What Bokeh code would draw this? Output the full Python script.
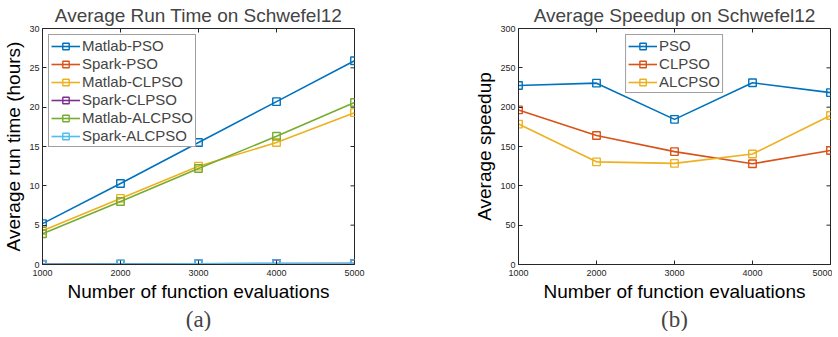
from bokeh.plotting import figure
from bokeh.models import FixedTicker, Title, Legend, LegendItem, Range1d
from bokeh.layouts import row
from bokeh.embed import file_html
from bokeh.resources import INLINE

evals = [1000, 2000, 3000, 4000, 5000]

# Panel (a): average run time (hours)
matlab_pso = [5.2, 10.3, 15.5, 20.7, 25.9]
spark_pso = [0.023, 0.045, 0.084, 0.090, 0.118]
matlab_clpso = [4.3, 8.4, 12.5, 15.5, 19.3]
spark_clpso = [0.022, 0.051, 0.087, 0.121, 0.133]
matlab_alcpso = [3.9, 8.0, 12.2, 16.3, 20.6]
spark_alcpso = [0.022, 0.062, 0.095, 0.116, 0.109]

# Panel (b): average speedup
speed_pso = [227.5, 230.5, 184.5, 231.0, 218.5]
speed_clpso = [196.5, 164.0, 143.5, 128.0, 145.0]
speed_alcpso = [178.5, 130.5, 128.5, 140.5, 189.5]

x_ticks = [1000, 2000, 3000, 4000, 5000]
y_ticks_a = [0, 5, 10, 15, 20, 25, 30]
y_ticks_b = [0, 50, 100, 150, 200, 250, 300]

C = ["#0072BD", "#D95319", "#EDB120", "#7E2F8E", "#77AC30", "#4DBEEE"]
FONT = "Liberation Sans"
TICKC = "#262626"
FW, FH = 312, 236   # frame size in pixels
TICK_PX = 4


def style_axis(ax, ticks, standoff):
    ax.ticker = FixedTicker(ticks=ticks)
    ax.major_tick_in = TICK_PX
    ax.major_tick_out = 0
    ax.minor_tick_in = 0
    ax.minor_tick_out = 0
    ax.axis_line_color = TICKC
    ax.major_tick_line_color = TICKC
    ax.major_label_text_font = FONT
    ax.major_label_text_color = TICKC
    ax.major_label_text_font_size = "9px"
    ax.major_label_standoff = standoff
    ax.axis_label_text_font = FONT
    ax.axis_label_text_font_size = "19px"
    ax.axis_label_text_font_style = "normal"
    ax.axis_label_text_color = "black"


def make_fig(title, ylabel, yrange, yticks, caption, mb_left, mb_right):
    xr = (x_ticks[0], x_ticks[-1])
    p = figure(frame_width=FW, frame_height=FH, output_backend="svg", toolbar_location=None,
               x_range=Range1d(*xr), y_range=Range1d(*yrange),
               min_border_left=mb_left, min_border_right=mb_right,
               min_border_top=23, min_border_bottom=0)
    p.title.text = title
    p.title.text_font = FONT
    p.title.text_font_size = "19px"
    p.title.text_font_style = "normal"
    p.title.align = "center"
    p.title.standoff = 5
    p.grid.visible = False
    p.outline_line_color = TICKC
    p.outline_line_alpha = 1
    p.background_fill_color = "white"
    p.border_fill_color = "white"
    style_axis(p.xaxis[0], x_ticks, 5)
    style_axis(p.yaxis[0], yticks, 3)
    p.xaxis[0].axis_label = "Number of function evaluations"
    p.xaxis[0].axis_label_standoff = 2
    p.yaxis[0].axis_label = ylabel
    p.yaxis[0].axis_label_standoff = 2
    # box ticks on the top and right edges (inward, like the bottom/left ones)
    dy = TICK_PX * (yrange[1] - yrange[0]) / FH
    dx = TICK_PX * (xr[1] - xr[0]) / FW
    inner_x = x_ticks[1:-1]
    p.segment(x0=inner_x, y0=[yrange[1]] * len(inner_x), x1=inner_x,
              y1=[yrange[1] - dy] * len(inner_x), line_color=TICKC, line_width=1)
    inner_y = yticks[1:-1]
    p.segment(x0=[xr[1]] * len(inner_y), y0=inner_y, x1=[xr[1] - dx] * len(inner_y),
              y1=inner_y, line_color=TICKC, line_width=1)
    cap = Title(text=caption, align="center", text_font="Liberation Serif",
                text_font_size="23px", text_font_style="normal", standoff=0,
                text_line_height=0.85)
    p.add_layout(cap, "below")
    return p


def add_series(p, xs, ys, color, name, items):
    r = p.line(xs, ys, line_color=color, line_width=1.6)
    m = p.scatter(xs, ys, marker="square", size=7.5, line_color=color, line_width=1.4,
                  fill_alpha=0)
    items.append(LegendItem(label=name, renderers=[r, m]))


def style_legend(p, items, location):
    leg = Legend(items=items, location=location)
    leg.label_text_font = FONT
    leg.label_text_font_size = "15px"
    leg.label_height = 16
    leg.glyph_height = 16
    leg.glyph_width = 29
    leg.spacing = 1
    leg.padding = 2
    leg.margin = 6
    leg.label_standoff = 2
    leg.border_line_color = "#404040"
    leg.border_line_width = 1.5
    leg.background_fill_alpha = 1
    p.add_layout(leg, "center")


pa = make_fig("Average Run Time on Schwefel12", "Average run time (hours)",
              (0, 30), y_ticks_a, "(a)", 32, 68)
items_a = []
add_series(pa, evals, matlab_pso, C[0], "Matlab-PSO", items_a)
add_series(pa, evals, spark_pso, C[1], "Spark-PSO", items_a)
add_series(pa, evals, matlab_clpso, C[2], "Matlab-CLPSO", items_a)
add_series(pa, evals, spark_clpso, C[3], "Spark-CLPSO", items_a)
add_series(pa, evals, matlab_alcpso, C[4], "Matlab-ALCPSO", items_a)
add_series(pa, evals, spark_alcpso, C[5], "Spark-ALCPSO", items_a)
style_legend(pa, items_a, "top_left")

pb = make_fig("Average Speedup on Schwefel12", "Average speedup",
              (0, 300), y_ticks_b, "(b)", 96, 2)
items_b = []
add_series(pb, evals, speed_pso, C[0], "PSO", items_b)
add_series(pb, evals, speed_clpso, C[1], "CLPSO", items_b)
add_series(pb, evals, speed_alcpso, C[2], "ALCPSO", items_b)
style_legend(pb, items_b, "top_center")

layout = row(pa, pb)
open("out.html", "w").write(file_html(layout, INLINE))
